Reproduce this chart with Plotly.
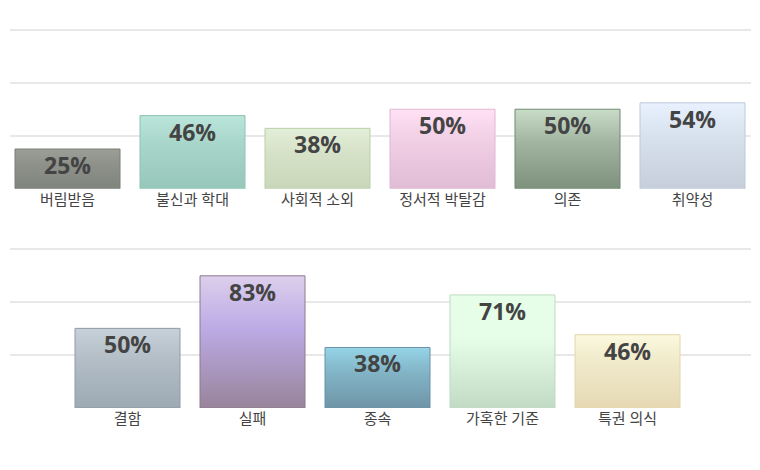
import plotly.graph_objects as go
from plotly.subplots import make_subplots

# top row of schemas
TOP_LABELS = ["버림받음", "불신과 학대", "사회적 소외", "정서적 박탈감", "의존", "취약성"]
TOP_VALUES = [25, 46, 38, 50, 50, 54]
TOP_COLORS = [  # (bottom, middle, top, border)
    ("#7f847c", "#8d918a", "#9b9f98", "#7a7e76"),
    ("#97c6ba", "#a8d5ca", "#bae5db", "#8cc3b4"),
    ("#c9d7b9", "#d6e2c8", "#e3eed8", "#b9cfa9"),
    ("#e1bcd5", "#f0cee4", "#ffe1f4", "#dfb8d3"),
    ("#7d917d", "#a2b6a2", "#c8dcc8", "#6f8a6f"),
    ("#c6cedc", "#d7e0ed", "#e9f1fe", "#c0c9d8"),
]

# bottom row of schemas
BOT_LABELS = ["결함", "실패", "종속", "가혹한 기준", "특권 의식"]
BOT_VALUES = [50, 83, 38, 71, 46]
BOT_COLORS = [
    ("#9daab3", "#b2bdc6", "#c6d1d9", "#8e9ca8"),
    ("#98849a", "#bcaae6", "#ddcfec", "#8c7a90"),
    ("#6e95a7", "#82b5c7", "#95d4e7", "#6b90a8"),
    ("#c2dbc4", "#e5fde6", "#e7ffe9", "#bedbc0"),
    ("#e6d9b4", "#f0e9c9", "#faf8de", "#e4d5a8"),
]

HALF_W = 0.42
TEXT = "#444444"
GRID = "#e8e8e8"
FONT = "Open Sans, Noto Sans CJK KR, sans-serif"

fig = make_subplots(rows=2, cols=1, vertical_spacing=58 / 378)


def add_row(labels, values, colors, row):
    for i, (v, (c0, cm, c1, border)) in enumerate(zip(values, colors)):
        fig.add_trace(go.Scatter(
            x=[i - HALF_W, i - HALF_W, i + HALF_W, i + HALF_W, i - HALF_W],
            y=[0, v, v, 0, 0],
            mode="lines",
            fill="toself",
            fillgradient=dict(type="vertical", colorscale=[[0, c0], [0.6, cm], [1, c1]]),
            line=dict(color=border, width=1),
            hoverinfo="skip",
            showlegend=False,
        ), row=row, col=1)
        fig.add_annotation(
            x=i, y=v, text=f"<b>{v}%</b>", showarrow=False,
            yanchor="top", yshift=2,
            font=dict(family=FONT, size=23, color=TEXT),
            row=row, col=1,
        )


add_row(TOP_LABELS, TOP_VALUES, TOP_COLORS, 1)
add_row(BOT_LABELS, BOT_VALUES, BOT_COLORS, 2)

grid_vals = [0, 100 / 3, 200 / 3, 100]
for row, labels, rng in [(1, TOP_LABELS, [-0.46, 5.468]), (2, BOT_LABELS, [-0.94, 4.988])]:
    fig.update_xaxes(
        range=rng, tickvals=list(range(len(labels))), ticktext=labels,
        showgrid=False, zeroline=False, showline=False, ticks="",
        tickfont=dict(family=FONT, size=15, color=TEXT),
        row=row, col=1,
    )
    fig.update_yaxes(
        range=[0, 101], tickvals=grid_vals, showticklabels=False,
        gridcolor=GRID, gridwidth=1.5, zeroline=False, showline=False,
        row=row, col=1,
    )

fig.update_layout(
    width=760, height=470,
    margin=dict(l=10, r=9, t=28, b=62),
    paper_bgcolor="white",
    plot_bgcolor="white",
    font=dict(family=FONT, color=TEXT),
    showlegend=False,
)

fig.write_html(
    "out.html",
    config={"displayModeBar": False},
    post_script="document.body.style.margin = '0';",
)
